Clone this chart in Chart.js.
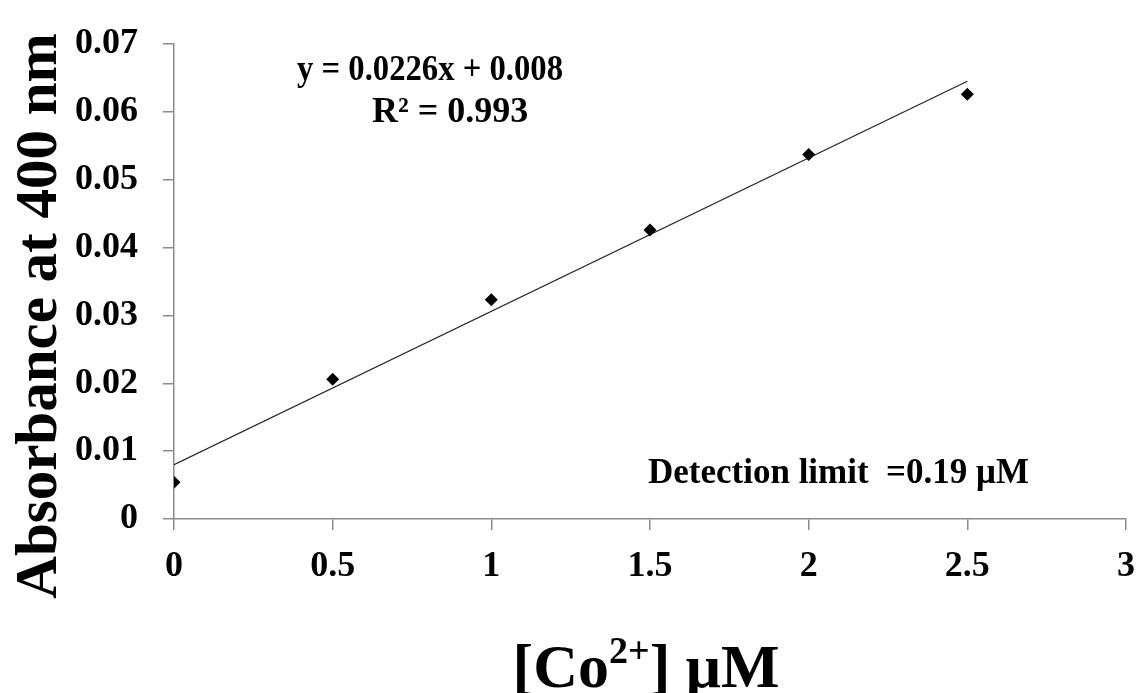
<!DOCTYPE html>
<html>
<head>
<meta charset="utf-8">
<script src="https://cdn.jsdelivr.net/npm/chart.js@4.4.1/dist/chart.umd.min.js"></script>
<style>
  html, body { margin: 0; padding: 0; background: #fff; }
  #wrap { width: 1140px; height: 693px; position: relative; }
</style>
</head>
<body>
<div id="wrap"><canvas id="c"></canvas></div>
<script>
// measured values
const concentrations = [0, 0.5, 1, 1.5, 2, 2.5];
const absorbance = [0.0054, 0.0206, 0.0323, 0.0426, 0.0537, 0.0626];
// linear fit endpoints (y = 0.0226x + 0.008)
const fitX = [0, 2.5];
const fitY = [0.008, 0.0645];
const xTicks = [0, 0.5, 1, 1.5, 2, 2.5, 3];
const xTickLabels = ['0', '0.5', '1', '1.5', '2', '2.5', '3'];
const yTicks = [0, 0.01, 0.02, 0.03, 0.04, 0.05, 0.06, 0.07];
const yTickLabels = ['0', '0.01', '0.02', '0.03', '0.04', '0.05', '0.06', '0.07'];

const SERIF = '"Liberation Serif", "DejaVu Serif", serif';
const AXIS = '#8c8c8c';

const textPlugin = {
  id: 'texts',
  afterDraw(chart) {
    const ctx = chart.ctx;
    ctx.save();
    ctx.fillStyle = '#000';
    ctx.textBaseline = 'alphabetic';

    // equation + R²
    ctx.font = `bold 36px ${SERIF}`;
    ctx.textAlign = 'left';
    ctx.fillText('y = 0.0226x + 0.008', 297, 80, 266);
    ctx.fillText('R² = 0.993', 372, 122);

    // detection limit
    ctx.font = `bold 35px ${SERIF}`;
    ctx.fillText('Detection limit  =0.19 μM', 648, 483, 382);

    // x axis title with superscript
    const big = `bold 62px ${SERIF}`, small = `bold 38px ${SERIF}`;
    const parts = [['[Co', big, 0], ['2+', small, -24], ['] μM', big, 0]];
    let total = 0;
    parts.forEach(p => { ctx.font = p[1]; total += ctx.measureText(p[0]).width; });
    let x = 646 - total / 2;
    parts.forEach(p => {
      ctx.font = p[1];
      ctx.fillText(p[0], x, 687 + p[2]);
      x += ctx.measureText(p[0]).width;
    });

    // y axis title
    ctx.translate(56, 316);
    ctx.rotate(-Math.PI / 2);
    ctx.font = `bold 59px ${SERIF}`;
    ctx.textAlign = 'center';
    ctx.fillText('Absorbance at 400 nm', 0, 0);
    ctx.restore();
  }
};

new Chart(document.getElementById('c'), {
  type: 'scatter',
  data: {
    datasets: [
      {
        label: 'Absorbance',
        data: concentrations.map((c, i) => ({ x: c, y: absorbance[i] })),
        pointStyle: 'rectRot', pointRadius: 6.5, pointHoverRadius: 6.5,
        backgroundColor: '#000', borderColor: '#000', borderWidth: 0
      },
      {
        label: 'Linear fit',
        data: fitX.map((c, i) => ({ x: c, y: fitY[i] })),
        showLine: true, pointRadius: 0, borderColor: '#222', borderWidth: 1.2
      }
    ]
  },
  options: {
    responsive: true, maintainAspectRatio: false, animation: false,
    layout: { padding: { top: 44, right: 14, left: 0, bottom: 0 } },
    plugins: { legend: { display: false }, tooltip: { enabled: false } },
    scales: {
      x: {
        type: 'linear', min: 0, max: 3,
        afterBuildTicks: s => { s.ticks = xTicks.map(v => ({ value: v })); },
        afterFit: s => { s.height = 174; s.paddingRight = 0; s.paddingLeft = 0; },
        ticks: { callback: (v, i) => xTickLabels[i], color: '#000', padding: 15, maxRotation: 0,
                 font: { family: SERIF, size: 36, weight: 'bold' } },
        grid: { drawOnChartArea: false, tickLength: 11, color: AXIS, lineWidth: 1.5 },
        border: { color: AXIS, width: 1.5 }
      },
      y: {
        type: 'linear', min: 0, max: 0.07,
        afterBuildTicks: s => { s.ticks = yTicks.map(v => ({ value: v })); },
        afterFit: s => { s.width = 174; s.paddingTop = 0; s.paddingBottom = 0; },
        ticks: { callback: (v, i) => yTickLabels[i], color: '#000', padding: 25,
                 font: { family: SERIF, size: 36, weight: 'bold' } },
        grid: { drawOnChartArea: false, tickLength: 11, color: AXIS, lineWidth: 1.5 },
        border: { color: AXIS, width: 1.5 }
      }
    }
  },
  plugins: [textPlugin]
});
</script>
</body>
</html>
